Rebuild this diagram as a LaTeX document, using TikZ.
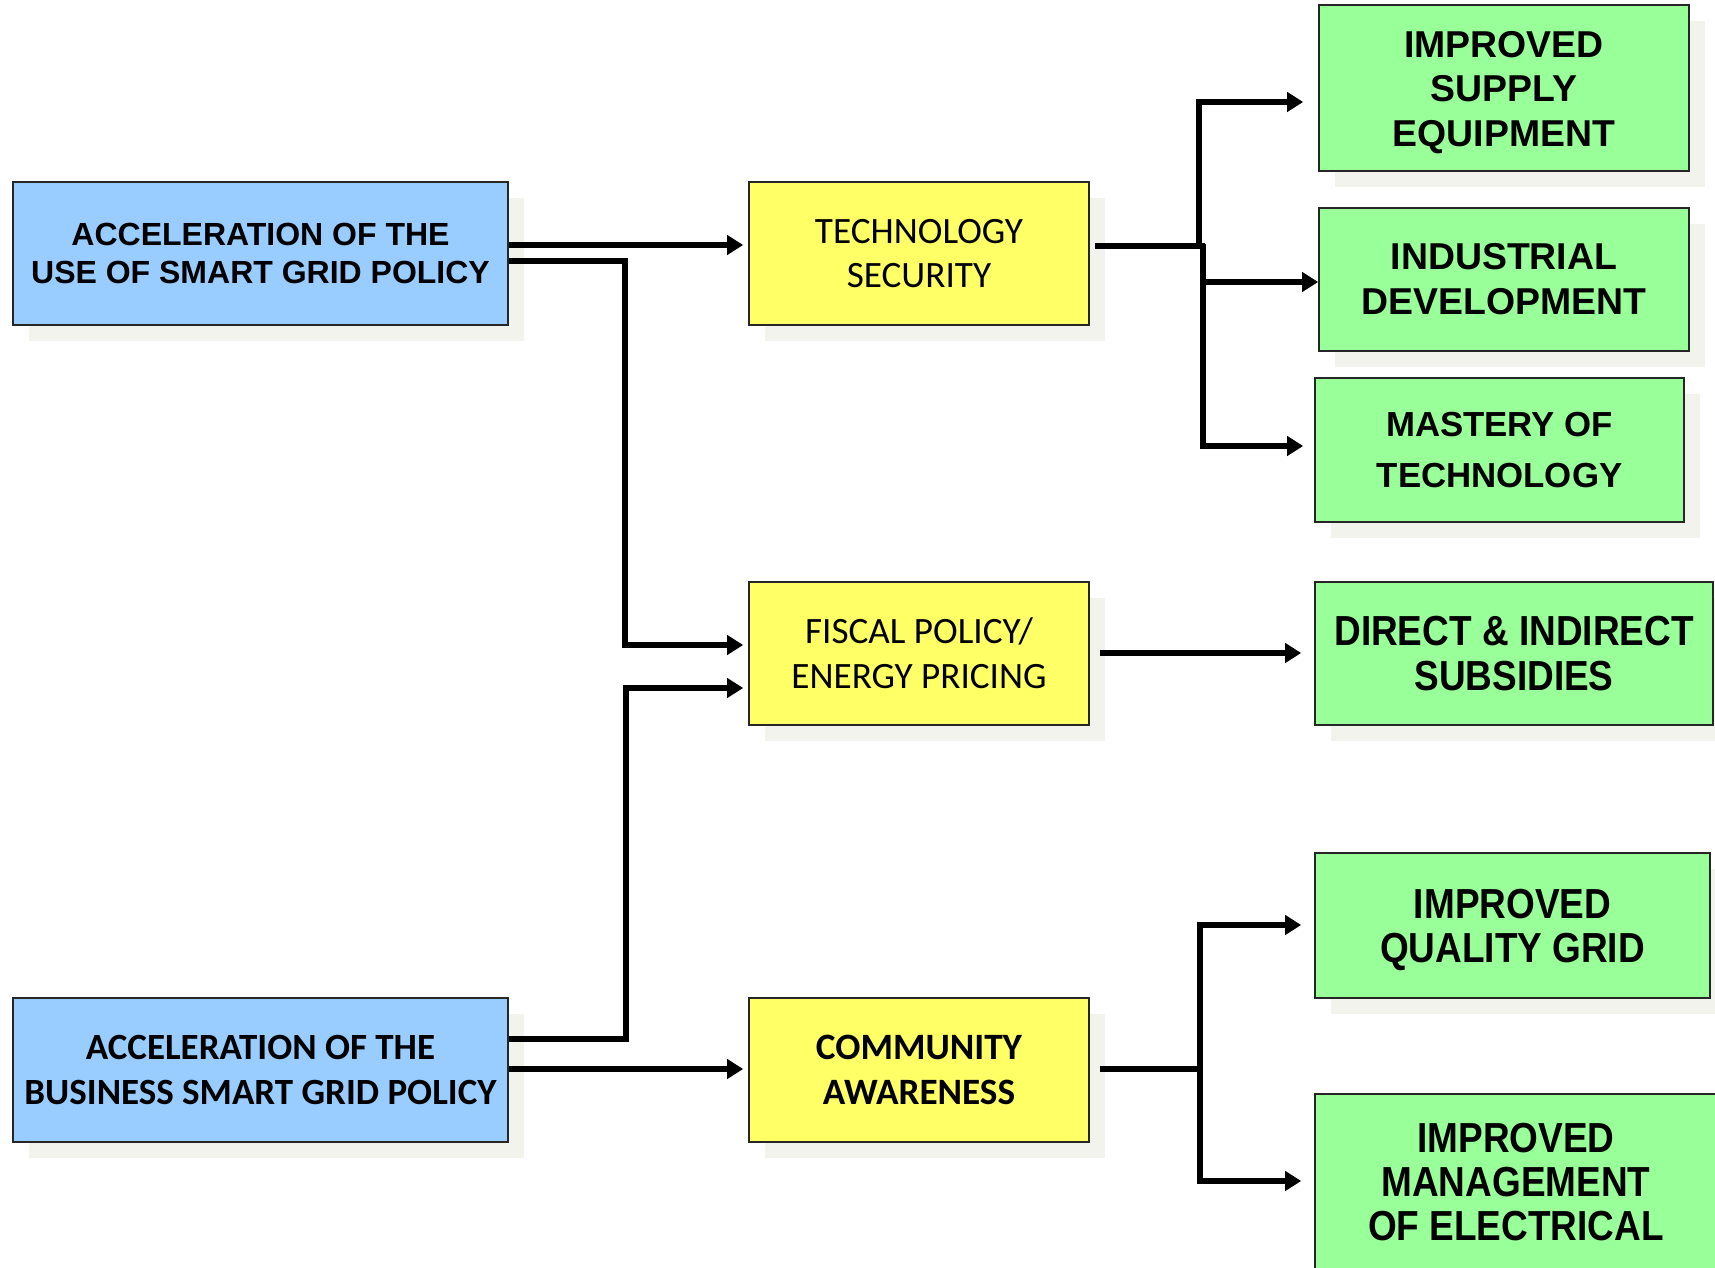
\documentclass[tikz,border=0pt]{standalone}
\usepackage{fontspec}
\usetikzlibrary{arrows.meta,shadows}
\newfontfamily\arialf{Liberation Sans}
\newfontfamily\narrowf{Liberation Sans}[FakeStretch=0.88]
\newfontfamily\calif{Carlito}
\definecolor{bluec}{HTML}{99CCFF}
\definecolor{yellowc}{HTML}{FFFF66}
\definecolor{greenc}{HTML}{99FF99}
\definecolor{shadowc}{HTML}{F3F3EE}
\tikzset{
  box/.style={draw=black!85, line width=0.8pt, align=center, inner sep=0pt,
    drop shadow={shadow xshift=8pt, shadow yshift=-8pt, fill=shadowc, opacity=1}},
  bluebox/.style={box, fill=bluec},
  yellowbox/.style={box, fill=yellowc},
  greenbox/.style={box, fill=greenc},
  conn/.style={line width=2.7pt, -{Triangle[length=8pt,width=9.5pt]}},
  plainconn/.style={line width=2.7pt},
}
\begin{document}
\begin{tikzpicture}[x=0.5pt,y=-0.5pt]
\useasboundingbox (0,0) rectangle (1715,1268);
\clip (0,0) rectangle (1715,1268);
\fill[white] (0,0) rectangle (1715,1268);
% left boxes
\node[bluebox, minimum width=247.5pt, minimum height=71.5pt,
  font=\arialf\bfseries\fontsize{16}{19.1}\selectfont] (b1) at (260.5,253.5)
  {ACCELERATION OF THE\\USE OF SMART GRID POLICY};
\node[bluebox, minimum width=247.5pt, minimum height=72pt,
  font=\calif\bfseries\fontsize{18.5}{22.4}\selectfont] (b2) at (260.5,1070)
  {ACCELERATION OF THE\\BUSINESS SMART GRID POLICY};
% middle boxes
\node[yellowbox, minimum width=170pt, minimum height=71.5pt,
  font=\calif\fontsize{18.6}{22.4}\selectfont] (y1) at (919,253.5)
  {TECHNOLOGY\\SECURITY};
\node[yellowbox, minimum width=170pt, minimum height=71.5pt,
  font=\calif\fontsize{18.6}{22.4}\selectfont] (y2) at (919,653.5)
  {FISCAL POLICY/\\ENERGY PRICING};
\node[yellowbox, minimum width=170pt, minimum height=72pt,
  font=\calif\bfseries\fontsize{18.6}{22.4}\selectfont] (y3) at (919,1070)
  {COMMUNITY\\AWARENESS};
% right boxes
\node[greenbox, minimum width=185pt, minimum height=83pt,
  font=\arialf\bfseries\fontsize{18.7}{22.4}\selectfont] (g1) at (1504,88)
  {\rule{0pt}{17.6pt}IMPROVED\\SUPPLY\\EQUIPMENT};
\node[greenbox, minimum width=185pt, minimum height=71.5pt,
  font=\arialf\bfseries\fontsize{18.7}{22.4}\selectfont] (g2) at (1504,279.5)
  {INDUSTRIAL\\DEVELOPMENT};
\node[greenbox, minimum width=184.5pt, minimum height=72pt,
  font=\arialf\bfseries\fontsize{17.4}{25.7}\selectfont] (g3) at (1499.5,450)
  {MASTERY OF\\TECHNOLOGY};
\node[greenbox, minimum width=199pt, minimum height=71.5pt,
  font=\narrowf\bfseries\fontsize{21}{22.4}\selectfont] (g4) at (1514,653.5)
  {DIRECT \& INDIRECT\\SUBSIDIES};
\node[greenbox, minimum width=197.5pt, minimum height=72.5pt,
  font=\narrowf\bfseries\fontsize{21}{22.4}\selectfont] (g5) at (1512.5,925.5)
  {\rule{0pt}{19.2pt}IMPROVED\\QUALITY GRID};
\node[greenbox, minimum width=212.5pt, minimum height=103pt] (g6) at (1527.5,1197) {};
\node[align=center, inner sep=0pt,
  font=\narrowf\bfseries\fontsize{21}{22.2}\selectfont] (g6t) at (1516,1182)
  {IMPROVED\\MANAGEMENT\\OF ELECTRICAL};
% connectors from left boxes
\draw[conn, shorten >=2.5pt] (b1.east |- 0,245) -- (y1.west |- 0,245);
\draw[conn, shorten >=2.5pt] (b1.east |- 0,261) -| (625,645) -- (y2.west |- 0,645);
\draw[conn, shorten >=2.5pt] (b2.east |- 0,1039) -| (626,688) -- (y2.west |- 0,688);
\draw[conn, shorten >=2.5pt] (b2.east |- 0,1069) -- (y3.west |- 0,1069);
% technology security branches
\draw[plainconn, line width=3.4pt, shorten <=2.5pt] (y1.east |- 0,246) -- (1205,246);
\draw[conn, shorten >=7.5pt] (1199,248) -- (1199,102) -- (g1.west |- 0,102);
\draw[conn, shorten >=5.5pt] (1203,244) -- (1203,446) -- (g3.west |- 0,446);
\draw[conn] (1201,282) -- (g2.west |- 0,282);
% fiscal policy
\draw[conn, shorten <=5pt, shorten >=6.5pt] (y2.east |- 0,653) -- (g4.west |- 0,653);
% community awareness branches
\draw[conn, shorten <=5pt, shorten >=6.5pt] (y3.east |- 0,1069) -| (1200,925) -- (g5.west |- 0,925);
\draw[conn, shorten <=5pt, shorten >=6.5pt] (y3.east |- 0,1069) -| (1200,1181) -- (g6.west |- 0,1181);
\end{tikzpicture}
\end{document}
